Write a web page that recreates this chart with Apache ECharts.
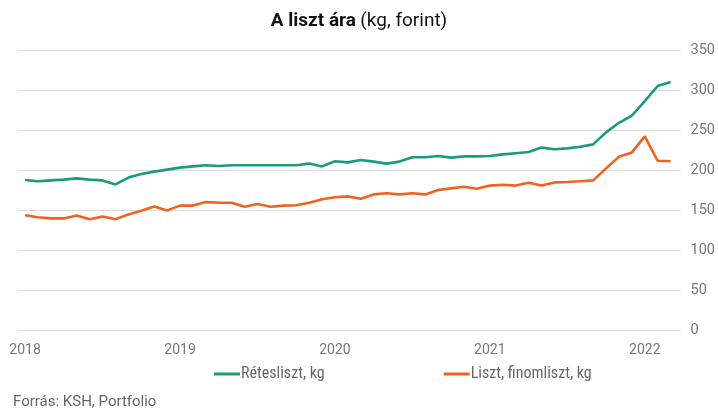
<!DOCTYPE html>
<html lang="hu">
<head>
    <meta charset="UTF-8">
    <title>A liszt ára</title>
    <script src="https://cdn.jsdelivr.net/npm/echarts@6.0.0/dist/echarts.min.js"></script>
    <style>
        html, body {
            margin: 0;
            padding: 0;
            background: #fff;
        }

        #chart {
            width: 718px;
            height: 415px;
        }
    </style>
</head>
<body>
<div id="chart"></div>
<script>
    // monthly data, 2018-01 .. 2022-03 (index 0 = Jan 2018)
    const yearTicks = [0, 12, 24, 36, 48];
    const yearLabels = ['2018', '2019', '2020', '2021', '2022'];

    const retesliszt = [
        187.5, 186, 187, 188, 189.5, 188, 187, 182, 190.5, 195, 198, 200.5,
        203, 204.5, 206, 205, 206, 206, 206, 206, 206, 206, 208, 204.5,
        211, 209.5, 212.5, 210.5, 208, 210.5, 216, 216, 217.5, 215.5, 217, 217,
        217.5, 219.5, 221, 222.5, 228, 226, 227, 229, 232, 247, 259, 268,
        286, 305, 310
    ];
    const finomliszt = [
        143.5, 141, 139.5, 139.5, 143, 138.5, 142, 138.5, 144.5, 149, 154.5, 149.5,
        155.5, 155.5, 160, 159, 159, 154, 157.5, 154, 155.5, 156, 159, 163.5,
        166, 167, 164, 169.5, 171, 169.5, 171, 169.5, 175, 177, 179, 176.5,
        180.5, 181.5, 180.5, 184, 180.5, 184.5, 185, 186, 187, 202, 216.5, 222,
        242, 211.5, 211
    ];

    const toPoints = arr => arr.map((v, i) => [i, v]);
    const narrow = "'Roboto Condensed', Roboto, sans-serif";

    const chart = echarts.init(document.getElementById('chart'));
    chart.setOption({
        animation: false,
        textStyle: {fontFamily: 'Roboto'},
        title: {
            text: '{b|A liszt ára} {n|(kg, forint)}',
            left: 'center',
            top: 7,
            textStyle: {
                rich: {
                    b: {fontFamily: 'Roboto', fontWeight: 'bold', fontSize: 19, color: '#111'},
                    n: {fontFamily: 'Roboto', fontWeight: 'normal', fontSize: 19, color: '#111'}
                }
            }
        },
        legend: {
            left: 214,
            top: 366,
            padding: 0,
            itemGap: 119,
            itemWidth: 26,
            itemHeight: 3,
            icon: 'rect',
            textStyle: {fontFamily: narrow, fontSize: 16, color: '#666', padding: [0, 0, 0, -4]},
            data: ['Rétesliszt, kg', 'Liszt, finomliszt, kg']
        },
        graphic: [{
            type: 'text',
            left: 13,
            top: 395,
            style: {text: 'Forrás: KSH, Portfolio', fontSize: 15, fill: '#666', fontFamily: 'Roboto'}
        }],
        grid: {
            left: 18,
            right: 35,
            top: 50,
            bottom: 85
        },
        xAxis: {
            type: 'value',
            min: -0.55,
            max: 50.85,
            axisLine: {show: false},
            axisTick: {show: false},
            splitLine: {show: false},
            axisLabel: {
                customValues: yearTicks,
                formatter: v => yearLabels[yearTicks.indexOf(Math.round(v))] || '',
                color: '#777',
                fontSize: 14,
                margin: 13
            }
        },
        yAxis: {
            type: 'value',
            position: 'right',
            min: 0,
            max: 350,
            interval: 50,
            axisLine: {show: false},
            axisTick: {show: false},
            splitLine: {lineStyle: {color: '#dcdcdc', width: 1}},
            axisLabel: {color: '#777', fontSize: 14.5, margin: 9}
        },
        series: [
            {
                name: 'Rétesliszt, kg',
                type: 'line',
                data: toPoints(retesliszt),
                showSymbol: false,
                color: '#1a9b7e',
                lineStyle: {width: 2.6}
            },
            {
                name: 'Liszt, finomliszt, kg',
                type: 'line',
                data: toPoints(finomliszt),
                showSymbol: false,
                color: '#f1621f',
                lineStyle: {width: 2.6}
            }
        ]
    });
</script>
</body>
</html>
